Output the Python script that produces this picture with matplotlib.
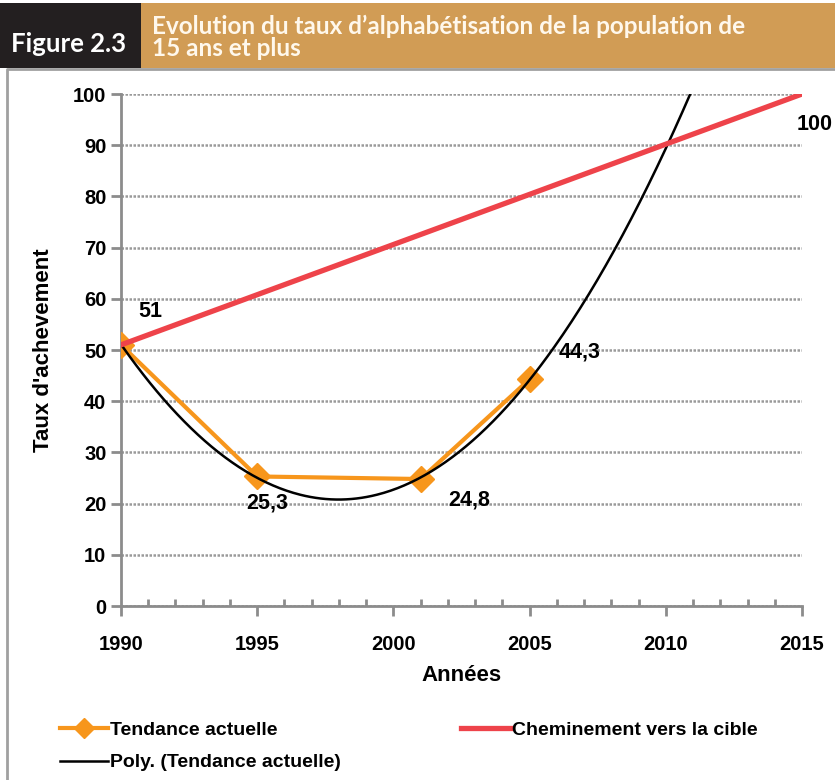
import numpy as np
import matplotlib.pyplot as plt
from matplotlib.patches import Rectangle

# data
years = [1990, 1995, 2001, 2005]
taux = [51, 25.3, 24.8, 44.3]
labels_taux = ["51", "25,3", "24,8", "44,3"]
cible_years = [1990, 2015]
cible = [51, 100]
label_offsets = [(29, 33), (10, -27), (49, -21), (50, 27)]  # pixels

orange = '#F7961C'
red = '#EE434A'
tan = '#D19C55'

plt.rcParams['font.family'] = ['Liberation Sans', 'DejaVu Sans']

fig = plt.figure(figsize=(8.35, 7.8), dpi=100)
W, H = 835, 780

# header boxes
fig.patches.append(Rectangle((0, 1 - 68 / H), 141 / W, 65 / H, transform=fig.transFigure,
                             facecolor='#231F20', edgecolor='none'))
fig.patches.append(Rectangle((141 / W, 1 - 68 / H), 1 - 141 / W, 65 / H, transform=fig.transFigure,
                             facecolor=tan, edgecolor='none'))
fig.text(11 / W, 1 - 44 / H, "Figure 2.3", color='white', fontsize=18.5, fontweight='bold',
         family=['Lato', 'DejaVu Sans'], va='center', ha='left')
fig.text(152 / W, 1 - 37 / H, "Evolution du taux d\u2019alphabétisation de la population de\n15 ans et plus",
         color='#FFF8EC', fontsize=17.5, fontweight='bold', family=['Lato', 'DejaVu Sans'],
         va='center', ha='left', linespacing=0.95)

# chart frame (gray border)
fig.add_artist(plt.Line2D([7 / W, 7 / W, 1], [0, 1 - 69 / H, 1 - 69 / H], transform=fig.transFigure,
                          color='#A0A0A0', lw=2))

ax = fig.add_axes([121 / W, 1 - 606 / H, (802 - 121) / W, (606 - 94) / H])

# polynomial trend (order 2) of the current series
coef = np.polyfit(years, taux, 2)
xs = np.linspace(1990, 2015, 400)
ax.plot(xs, np.polyval(coef, xs), color='black', lw=1.8, zorder=4, label='Poly. (Tendance actuelle)')
ax.plot(years, taux, color=orange, lw=3, marker='D', ms=13, zorder=3, label='Tendance actuelle')
ax.plot(cible_years, cible, color=red, lw=3.8, zorder=5, label='Cheminement vers la cible')

for x, y, s, off in zip(years, taux, labels_taux, label_offsets):
    ax.annotate(s, (x, y), xytext=off, textcoords='offset pixels', ha='center', va='center',
                fontsize=15.5, fontweight='bold')
ax.annotate("100", (cible_years[-1], cible[-1]), xytext=(13, -31), textcoords='offset pixels',
            ha='center', va='center', fontsize=15.5, fontweight='bold', annotation_clip=False)

ax.set_xlim(1990, 2015)
ax.set_ylim(0, 100)
ax.set_xticks(range(1990, 2016, 5))
ax.set_xticks(range(1990, 2016, 1), minor=True)
ax.set_yticks(range(0, 101, 10))
ax.yaxis.grid(True, color='#9A9A9A', lw=1.8, linestyle=(0, (1, 0.6)))
ax.set_axisbelow(True)
for side in ['top', 'right']:
    ax.spines[side].set_visible(False)
for side in ['left', 'bottom']:
    ax.spines[side].set_color('#8C8C8C')
    ax.spines[side].set_linewidth(2)
ax.tick_params(axis='both', which='major', colors='#8C8C8C', width=2, length=7, labelcolor='black',
               labelsize=14.5)
ax.tick_params(axis='x', which='major', pad=14)
ax.tick_params(axis='x', which='minor', direction='in', colors='#8C8C8C', width=2, length=5)
for lab in ax.get_xticklabels() + ax.get_yticklabels():
    lab.set_fontweight('bold')

ax.set_xlabel("Années", fontsize=16, fontweight='bold', labelpad=8)
ax.set_ylabel("Taux d'achevement", fontsize=16, fontweight='bold', labelpad=14)

h, l = ax.get_legend_handles_labels()
order = [1, 0, 2]
fig.legend([h[i] for i in order], [l[i] for i in order], ncol=2, loc='upper left',
           bbox_to_anchor=(42 / W, 1 - 704 / H), frameon=False,
           prop={'weight': 'bold', 'size': 14}, handlelength=2.5, handletextpad=0.1,
           columnspacing=6.2, labelspacing=0.75, markerscale=0.75)

fig.savefig('out.png', dpi=100)
